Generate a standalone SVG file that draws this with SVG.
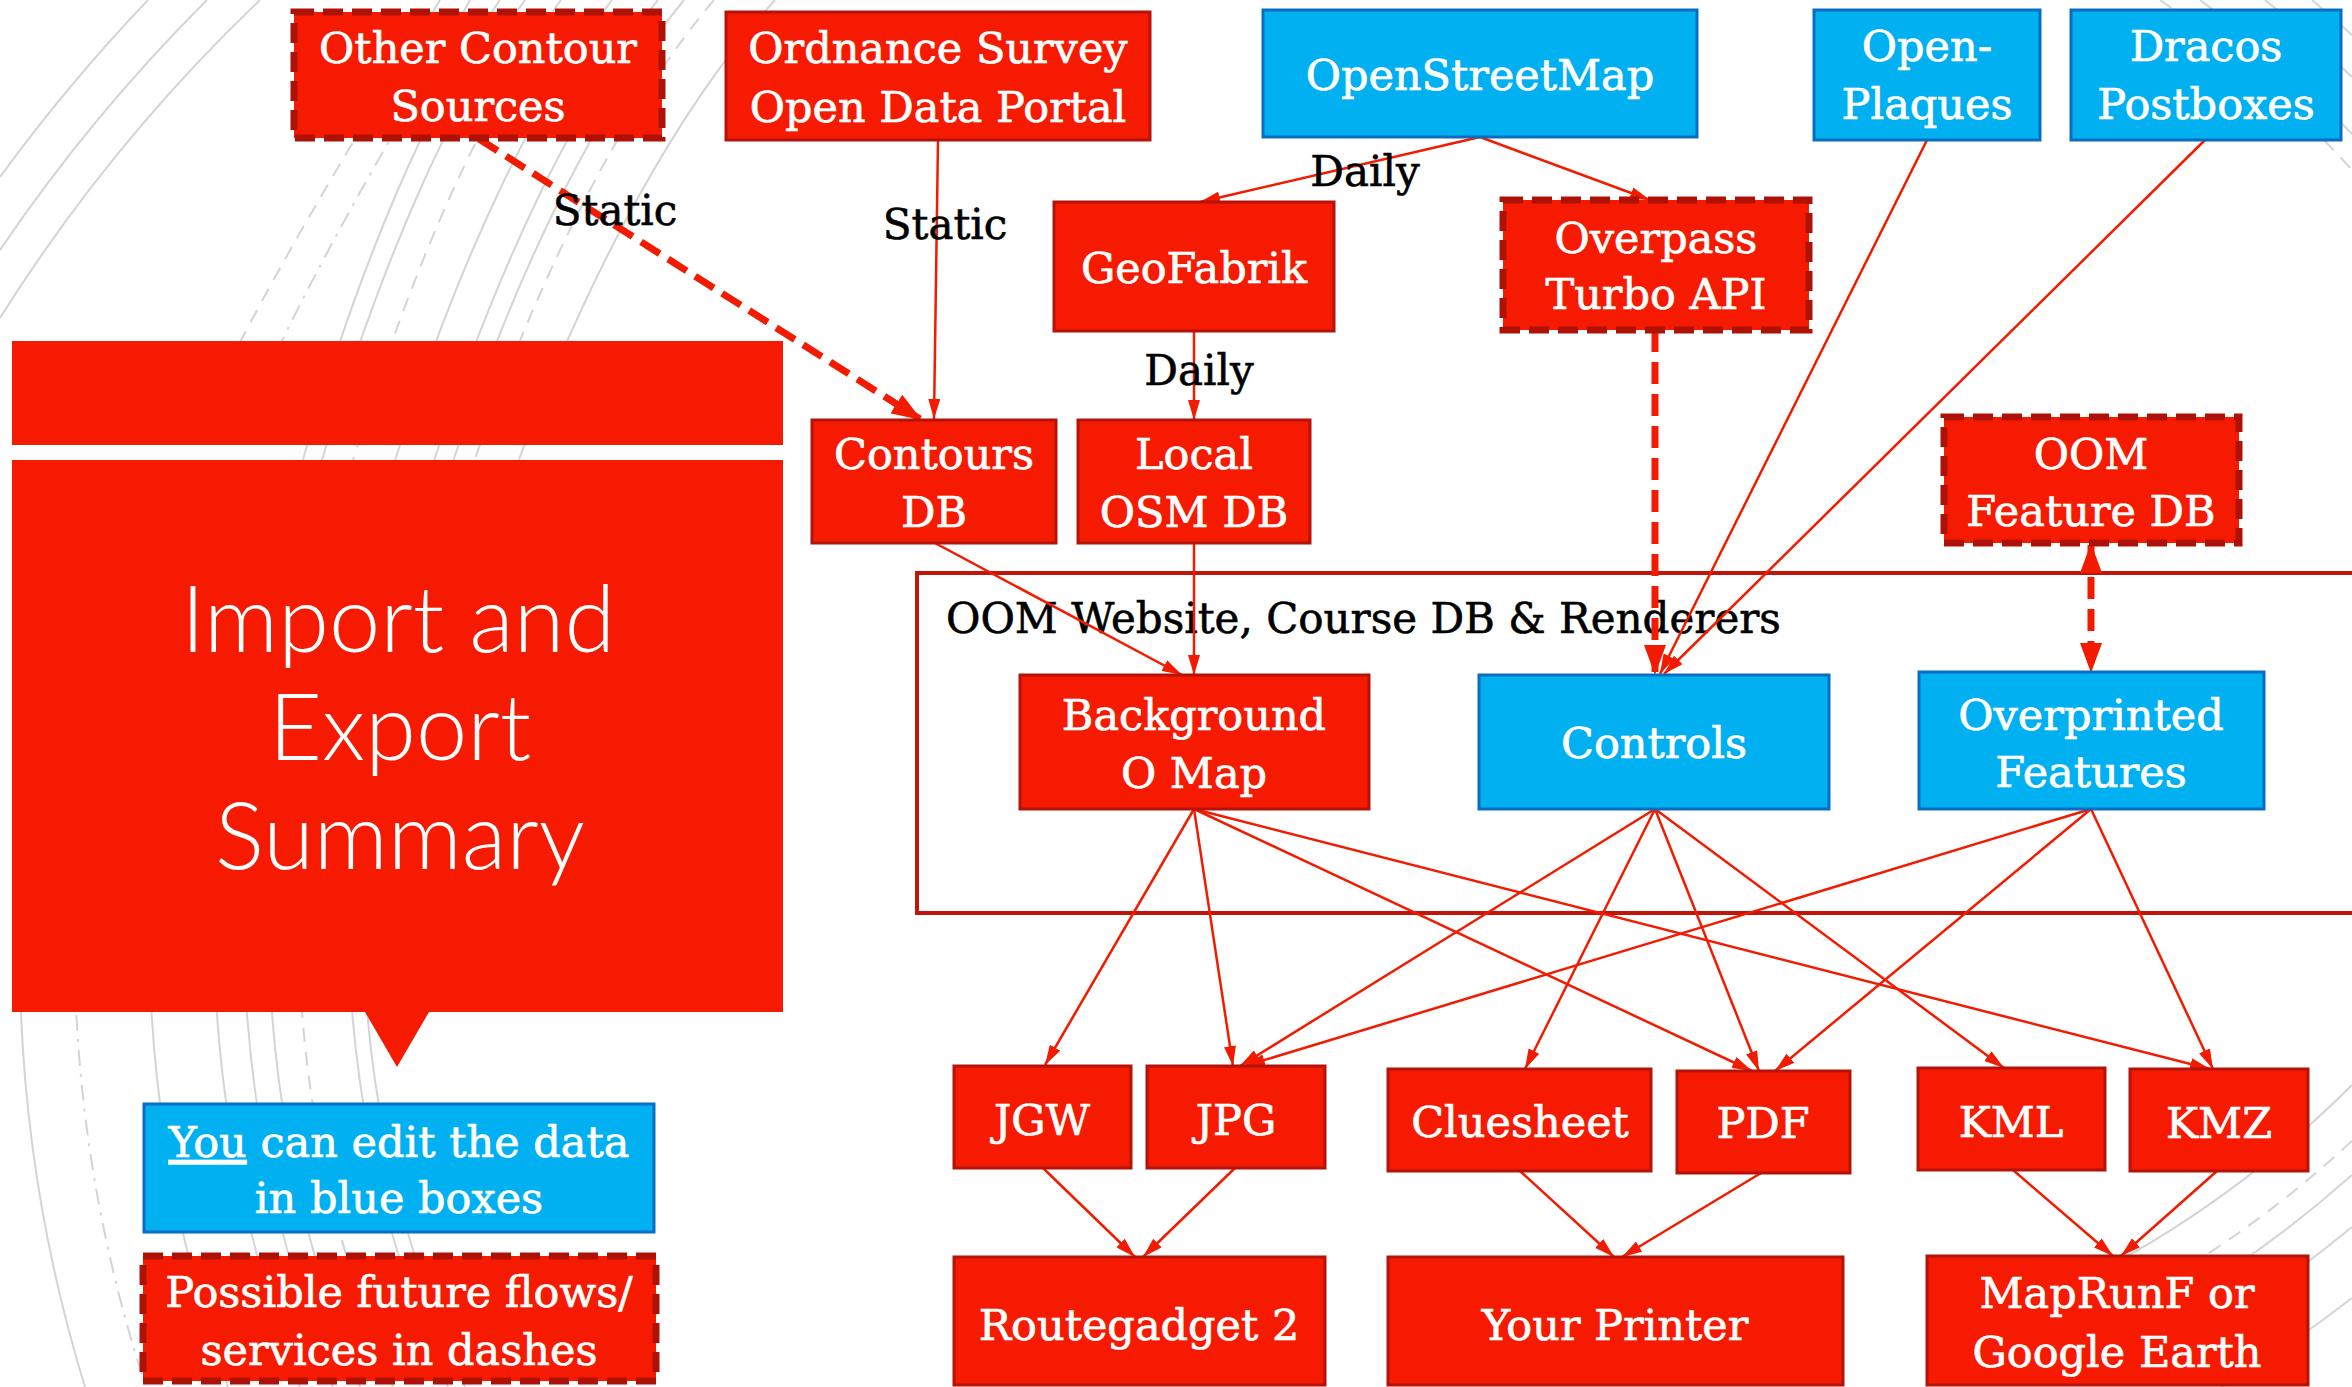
<svg xmlns="http://www.w3.org/2000/svg" width="2352" height="1387" viewBox="0 0 2352 1387">
<style>
.bg{fill:#ffffff}
.arc{fill:none;stroke:#d4d4d4;stroke-width:2}
.arcd{fill:none;stroke:#d4d4d4;stroke-width:2;stroke-dasharray:14 10}
.arcdd{fill:none;stroke:#d4d4d4;stroke-width:2;stroke-dasharray:16 8 3 8}
.red{fill:#F61B00;stroke:#B3130A;stroke-width:3}
.blue{fill:#00B0F0;stroke:#0A6EC0;stroke-width:3}
.dash{fill:#F61B00;stroke:#AE1206;stroke-width:7;stroke-dasharray:20 9}
.panel{fill:#F61B00}
.cont{fill:none;stroke:#C0150A;stroke-width:4}
.nt{font-family:"DejaVu Serif","Liberation Serif",serif;font-size:43px;fill:#ffffff;stroke:#ffffff;stroke-width:0.7;text-anchor:middle}
.lb{font-family:"DejaVu Serif","Liberation Serif",serif;font-size:42px;fill:#000000;stroke:#000000;stroke-width:0.6;text-anchor:middle}
.ct{font-family:"DejaVu Serif","Liberation Serif",serif;font-size:42px;fill:#000000;stroke:#000000;stroke-width:0.6}
.title{font-family:"Lato","Open Sans","Liberation Sans",sans-serif;font-weight:300;font-size:92px;fill:#ffffff;text-anchor:middle}
.e{fill:none;stroke:#F21B00;stroke-width:2.5;marker-end:url(#ah)}
.ed{fill:none;stroke:#F21B00;stroke-width:7;stroke-dasharray:22 10;marker-end:url(#ahb)}
.ed2{fill:none;stroke:#F21B00;stroke-width:7;stroke-dasharray:22 10;marker-end:url(#ahb);marker-start:url(#ahb)}
</style>
<defs>
<marker id="ah" viewBox="0 0 20 12" refX="20" refY="6" markerWidth="20" markerHeight="12" markerUnits="userSpaceOnUse" orient="auto"><path d="M0,0 L20,6 L0,12 z" fill="#F21B00"/></marker>
<marker id="ahb" viewBox="0 0 30 22" refX="28" refY="11" markerWidth="30" markerHeight="22" markerUnits="userSpaceOnUse" orient="auto-start-reverse"><path d="M0,0 L30,11 L0,22 z" fill="#F21B00"/></marker>
</defs>
<rect class="bg" x="0" y="0" width="2352" height="1387"/>
<g id="background-arcs">
<path class="arc" d="M148 0 A1734 1734 0 0 0 0 177"/>
<path class="arc" d="M207 0 A1692 1692 0 0 0 0 250"/>
<path class="arc" d="M260 0 A1655 1655 0 0 0 0 318"/>
<path class="arcd" d="M440 0 C380 100 300 220 200 420"/>
<path class="arcdd" d="M470 0 C410 110 330 230 240 430"/>
<path class="arc" d="M500 0 C430 100 360 260 300 470"/>
<path class="arc" d="M525 0 C453 100 381 260 319 470"/>
<path class="arcd" d="M561 0 C487 100 413 260 350 470"/>
<path class="arc" d="M612 0 C535 100 458 260 392 470"/>
<path class="arc" d="M658 0 C578 100 499 260 431 470"/>
<path class="arc" d="M684 0 C602 100 520 260 450 470"/>
<path class="arcd" d="M714 0 C629 100 544 260 471 470"/>
<path class="arc" d="M775 0 C684 100 593 260 515 470"/>
<path class="arc" d="M20 980 A1481 1481 0 0 0 85 1387"/>
<path class="arcdd" d="M75 980 A1426 1426 0 0 0 146 1387"/>
<path class="arc" d="M150 980 A1351 1351 0 0 0 228 1387"/>
<path class="arc" d="M215 980 A1286 1286 0 0 0 300 1387"/>
<path class="arc" d="M245 980 A1256 1256 0 0 0 333 1387"/>
<path class="arc" d="M270 980 A1231 1231 0 0 0 360 1387"/>
<path class="arcd" d="M300 980 A1201 1201 0 0 0 393 1387"/>
<path class="arc" d="M350 980 A1151 1151 0 0 0 448 1387"/>
<path class="arc" d="M365 980 A1136 1136 0 0 0 465 1387"/>
<path class="arcd" d="M2160 0 A1160 1160 0 0 1 2352 170"/>
<path class="arc" d="M2200 0 A1180 1180 0 0 1 2352 134"/>
<path class="arc" d="M2265 0 A1220 1220 0 0 1 2352 77"/>
<path class="arc" d="M2312 0 A1250 1250 0 0 1 2352 35"/>
<path class="arc" d="M2352 1085 A1066 1066 0 0 1 2042 1300"/>
<path class="arcd" d="M2352 1141 A1106 1106 0 0 1 2131 1300"/>
<path class="arc" d="M2352 1175 A1131 1131 0 0 1 2182 1300"/>
<path class="arc" d="M2352 1227 A1170 1170 0 0 1 2254 1300"/>
<path class="arc" d="M2352 1298 A1226 1226 0 0 1 2221 1387"/>
</g>
<g id="title-panel">
<rect class="panel" x="12" y="341" width="771" height="104"/>
<path class="panel" d="M12 460 H783 V1012 H429 L397 1067 L365 1012 H12 Z"/>
<text class="title" x="398" y="652">Import and</text>
<text class="title" x="400" y="760">Export</text>
<text class="title" x="400" y="869">Summary</text>
</g>
<g id="container-oom-website">
<rect class="cont" x="917" y="573" width="1445" height="340"/>
<text class="ct" x="946" y="633">OOM Website, Course DB &amp; Renderers</text>
</g>
<g id="connectors">
<path class="ed" d="M479 139 L920 419"/>
<path class="e" d="M938 140 L934 419"/>
<path class="e" d="M1480 137 L1200 202"/>
<path class="e" d="M1480 137 L1650 200"/>
<path class="e" d="M1194 331 L1194 420"/>
<path class="ed" d="M1655 330 L1655 673"/>
<path class="e" d="M1927 140 L1660 674"/>
<path class="e" d="M2205 140 L1664 674"/>
<path class="e" d="M935 543 L1182 675"/>
<path class="e" d="M1194 543 L1194 675"/>
<path class="ed2" d="M2091 545 L2091 671"/>
<path class="e" d="M1194 809 L1045 1065"/>
<path class="e" d="M1194 809 L1233 1066"/>
<path class="e" d="M1194 809 L1752 1071"/>
<path class="e" d="M1194 809 L2210 1069"/>
<path class="e" d="M1655 809 L1240 1066"/>
<path class="e" d="M1655 809 L1525 1069"/>
<path class="e" d="M1655 809 L1759 1071"/>
<path class="e" d="M1655 809 L2004 1068"/>
<path class="e" d="M2091 809 L1245 1066"/>
<path class="e" d="M2091 809 L1775 1071"/>
<path class="e" d="M2091 809 L2213 1069"/>
<path class="e" d="M1043 1168 L1135 1257"/>
<path class="e" d="M1235 1168 L1143 1257"/>
<path class="e" d="M1520 1171 L1614 1257"/>
<path class="e" d="M1761 1173 L1622 1257"/>
<path class="e" d="M2013 1170 L2113 1256"/>
<path class="e" d="M2217 1171 L2121 1256"/>
<text class="lb" x="615" y="225">Static</text>
<text class="lb" x="945" y="239">Static</text>
<text class="lb" x="1365" y="186">Daily</text>
<text class="lb" x="1199" y="385">Daily</text>
</g>
<g id="other-contour-sources"><rect class="dash" x="294" y="12" width="368" height="126"/><text class="nt" x="478" y="63">Other Contour</text><text class="nt" x="478" y="121">Sources</text></g>
<g id="ordnance-survey"><rect class="red" x="726" y="12" width="424" height="128"/><text class="nt" x="938" y="63">Ordnance Survey</text><text class="nt" x="938" y="122">Open Data Portal</text></g>
<g id="openstreetmap"><rect class="blue" x="1263" y="10" width="434" height="127"/><text class="nt" x="1480" y="90">OpenStreetMap</text></g>
<g id="open-plaques"><rect class="blue" x="1814" y="10" width="226" height="130"/><text class="nt" x="1927" y="61">Open-</text><text class="nt" x="1927" y="119">Plaques</text></g>
<g id="dracos-postboxes"><rect class="blue" x="2071" y="10" width="270" height="130"/><text class="nt" x="2206" y="61">Dracos</text><text class="nt" x="2206" y="119">Postboxes</text></g>
<g id="geofabrik"><rect class="red" x="1054" y="202" width="280" height="129"/><text class="nt" x="1194" y="283">GeoFabrik</text></g>
<g id="overpass-turbo-api"><rect class="dash" x="1503" y="200" width="306" height="130"/><text class="nt" x="1656" y="253">Overpass</text><text class="nt" x="1656" y="309">Turbo API</text></g>
<g id="contours-db"><rect class="red" x="812" y="420" width="244" height="123"/><text class="nt" x="934" y="469">Contours</text><text class="nt" x="934" y="527">DB</text></g>
<g id="local-osm-db"><rect class="red" x="1078" y="420" width="232" height="123"/><text class="nt" x="1194" y="469">Local</text><text class="nt" x="1194" y="527">OSM DB</text></g>
<g id="oom-feature-db"><rect class="dash" x="1944" y="417" width="295" height="126"/><text class="nt" x="2091" y="469">OOM</text><text class="nt" x="2091" y="526">Feature DB</text></g>
<g id="background-o-map"><rect class="red" x="1020" y="675" width="349" height="134"/><text class="nt" x="1194" y="730">Background</text><text class="nt" x="1194" y="788">O Map</text></g>
<g id="controls"><rect class="blue" x="1479" y="675" width="350" height="134"/><text class="nt" x="1654" y="758">Controls</text></g>
<g id="overprinted-features"><rect class="blue" x="1919" y="672" width="345" height="137"/><text class="nt" x="2091" y="730">Overprinted</text><text class="nt" x="2091" y="787">Features</text></g>
<g id="jgw"><rect class="red" x="954" y="1066" width="177" height="102"/><text class="nt" x="1042" y="1135">JGW</text></g>
<g id="jpg"><rect class="red" x="1147" y="1066" width="178" height="102"/><text class="nt" x="1236" y="1135">JPG</text></g>
<g id="cluesheet"><rect class="red" x="1388" y="1069" width="263" height="102"/><text class="nt" x="1520" y="1137">Cluesheet</text></g>
<g id="pdf"><rect class="red" x="1677" y="1071" width="173" height="102"/><text class="nt" x="1763" y="1138">PDF</text></g>
<g id="kml"><rect class="red" x="1918" y="1068" width="187" height="102"/><text class="nt" x="2011" y="1137">KML</text></g>
<g id="kmz"><rect class="red" x="2130" y="1069" width="178" height="102"/><text class="nt" x="2219" y="1138">KMZ</text></g>
<g id="routegadget-2"><rect class="red" x="954" y="1257" width="371" height="128"/><text class="nt" x="1139" y="1340">Routegadget 2</text></g>
<g id="your-printer"><rect class="red" x="1388" y="1257" width="455" height="128"/><text class="nt" x="1615" y="1340">Your Printer</text></g>
<g id="maprunf-google-earth"><rect class="red" x="1927" y="1256" width="381" height="129"/><text class="nt" x="2117" y="1308">MapRunF or</text><text class="nt" x="2117" y="1367">Google Earth</text></g>
<g id="legend-blue"><rect class="blue" x="144" y="1104" width="510" height="128"/><text class="nt" x="399" y="1157"><tspan style="text-decoration:underline">You</tspan> can edit the data</text><text class="nt" x="399" y="1213">in blue boxes</text></g>
<g id="legend-dashed"><rect class="dash" x="143" y="1256" width="513" height="125"/><text class="nt" x="399" y="1307">Possible future flows/</text><text class="nt" x="399" y="1365">services in dashes</text></g>
</svg>
